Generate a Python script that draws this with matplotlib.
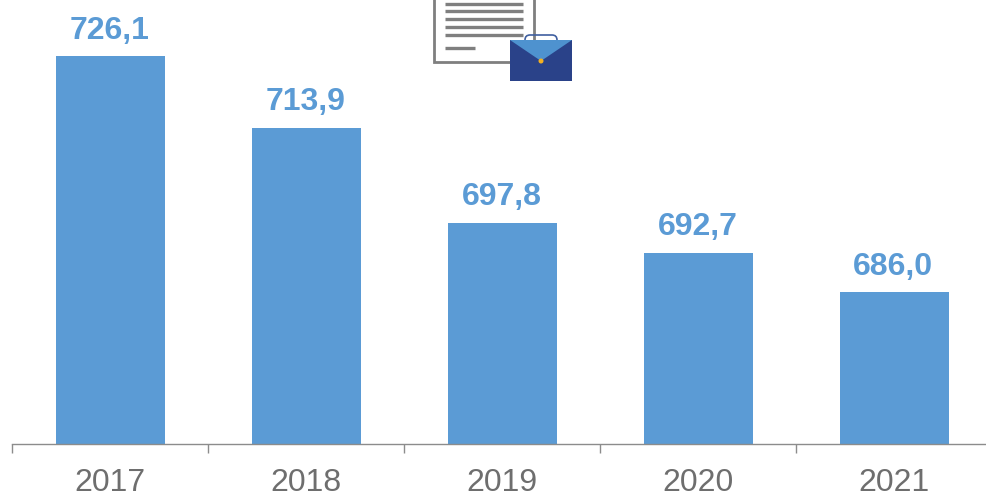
import matplotlib
matplotlib.use('Agg')
import matplotlib.pyplot as plt
from matplotlib.patches import Rectangle, Polygon, FancyBboxPatch, Circle

years = ['2017', '2018', '2019', '2020', '2021']
values = [726.1, 713.9, 697.8, 692.7, 686.0]
value_labels = ['726,1', '713,9', '697,8', '692,7', '686,0']

plt.rcParams['font.family'] = ['Liberation Sans', 'DejaVu Sans']

BLUE = '#5B9BD5'
W, H = 987, 497

fig = plt.figure(figsize=(W / 100, H / 100), dpi=100)
ax = fig.add_axes([12.4 / W, (H - 444) / H, 980 / W, 444 / H])

xs = list(range(len(years)))
ax.bar(xs, values, width=0.556, color=BLUE, zorder=2)
for x, v, lab in zip(xs, values, value_labels):
    ax.annotate(lab, (x, v), xytext=(-0.7, 7.5), textcoords='offset points',
                ha='center', va='bottom', fontsize=23, fontweight='bold', color=BLUE)

ax.set_xlim(-0.5, 4.5)
ax.set_ylim(660.2, 735.6)
ax.set_yticks([])
for s in ['top', 'left', 'right']:
    ax.spines[s].set_visible(False)
ax.spines['bottom'].set_color('#8c8c8c')
ax.spines['bottom'].set_linewidth(1)

# ticks sit between the categories, labels are centred under the bars
ax.set_xticks([i - 0.5 for i in range(len(years) + 1)])
ax.set_xticklabels([])
ax.tick_params(axis='x', which='major', length=6.5, width=1, color='#8c8c8c')
ax.set_xticks(xs, minor=True)
ax.set_xticklabels(years, minor=True, fontsize=23, color='#6e6e6e')
ax.tick_params(axis='x', which='minor', length=0, pad=17.5)

# document + briefcase icon, drawn in pixel coords
icon = fig.add_axes([0, 0, 1, 1], facecolor='none')
icon.set_xlim(0, W)
icon.set_ylim(H, 0)
icon.axis('off')

icon.add_patch(Rectangle((433.5, -10), 100, 72, fc='white', ec='#7f7f7f', lw=2))
for y in [3.5, 11, 19, 27, 35]:
    icon.plot([445, 523], [y, y], color='#7f7f7f', lw=2.4, solid_capstyle='butt')
icon.plot([445, 475], [48, 48], color='#7f7f7f', lw=2.4, solid_capstyle='butt')

icon.add_patch(FancyBboxPatch((525, 35), 32, 10, boxstyle='round,pad=0,rounding_size=5',
                              fc='none', ec='#3f5fa0', lw=1.2))
icon.add_patch(Rectangle((510, 40), 62, 41, fc='#2A4289', ec='none'))
icon.add_patch(Polygon([(510, 40), (572, 40), (541, 61)], fc='#4E92CF', ec='none'))
icon.add_patch(Circle((541, 61), 2.5, fc='#F5B120', ec='none'))

fig.savefig('out.png', dpi=100)
